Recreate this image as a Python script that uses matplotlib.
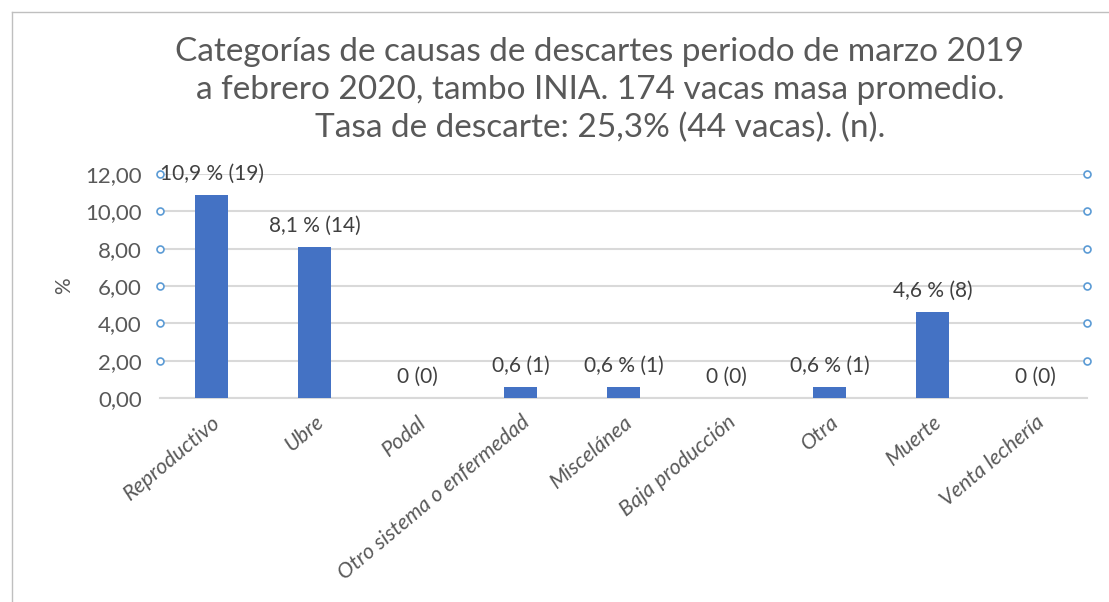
import matplotlib
matplotlib.use("Agg")
import matplotlib.pyplot as plt
from matplotlib.lines import Line2D

categories = ["Reproductivo", "Ubre", "Podal", "Otro sistema o enfermedad", "Miscelánea",
              "Baja producción", "Otra", "Muerte", "Venta lechería"]
values = [10.9, 8.1, 0, 0.6, 0.6, 0, 0.6, 4.6, 0]
bar_labels = ["10,9 % (19)", "8,1 % (14)", "0 (0)", "0,6 (1)", "0,6 % (1)", "0 (0)",
              "0,6 % (1)", "4,6 % (8)", "0 (0)"]
yticks = [0, 2, 4, 6, 8, 10, 12]
ytick_labels = ["0,00", "2,00", "4,00", "6,00", "8,00", "10,00", "12,00"]
title = ("Categorías de causas de descartes periodo de marzo 2019\n"
         "a febrero 2020, tambo INIA. 174 vacas masa promedio.\n"
         "Tasa de descarte: 25,3% (44 vacas). (n).")

plt.rcParams['font.family'] = ['Lato', 'DejaVu Sans']
W, H = 1109, 602
fig = plt.figure(figsize=(W / 100, H / 100), dpi=100)
fig.patch.set_facecolor('white')

ax = fig.add_axes([160 / W, 1 - 398 / H, (1087 - 160) / W, (398 - 174) / H])
x = list(range(len(categories)))
ax.bar(x, values, width=0.32, color='#4472C4', zorder=3)
ax.set_xlim(-0.5, len(categories) - 0.5)
ax.set_ylim(0, 12)
ax.set_yticks(yticks)
ax.set_yticklabels(ytick_labels, fontsize=16, color='#595959')
ax.yaxis.grid(True, color='#D9D9D9', linewidth=1.5, zorder=0)
ax.tick_params(axis='y', length=0, pad=13)
for s in ['top', 'right', 'left']:
    ax.spines[s].set_visible(False)
ax.spines['bottom'].set_color('#D9D9D9')
ax.spines['bottom'].set_linewidth(1.5)
ax.set_xticks(x)
ax.set_xticklabels(categories, rotation=40, ha='right', rotation_mode='anchor',
                   fontsize=15.5, color='#595959', style='italic')
ax.tick_params(axis='x', length=0, pad=10)
ax.set_ylabel('%', fontsize=15, color='#595959', labelpad=8)

for xi, v, lab in zip(x, values, bar_labels):
    ax.annotate(lab, (xi, v), xytext=(0, 21), textcoords='offset pixels',
                ha='center', va='center', fontsize=15, color='#404040', zorder=5,
                annotation_clip=False)

# small circle markers at gridline ends
for yv in yticks[1:]:
    for xv in (-0.5, len(categories) - 0.5):
        ax.plot([xv], [yv], marker='o', markersize=5, markerfacecolor='white',
                markeredgecolor='#5B9BD5', markeredgewidth=1.2, clip_on=False, zorder=4)

fig.text(600 / W, 1 - 90 / H, title, ha='center', va='center', fontsize=24,
         color='#595959', linespacing=1.31)

# chart border
fig.add_artist(Line2D([12 / W, 1], [1 - 12 / H, 1 - 12 / H], color='#BFBFBF', linewidth=1))
fig.add_artist(Line2D([12 / W, 12 / W], [0, 1 - 12 / H], color='#BFBFBF', linewidth=1))

fig.savefig('out.png', dpi=100)
